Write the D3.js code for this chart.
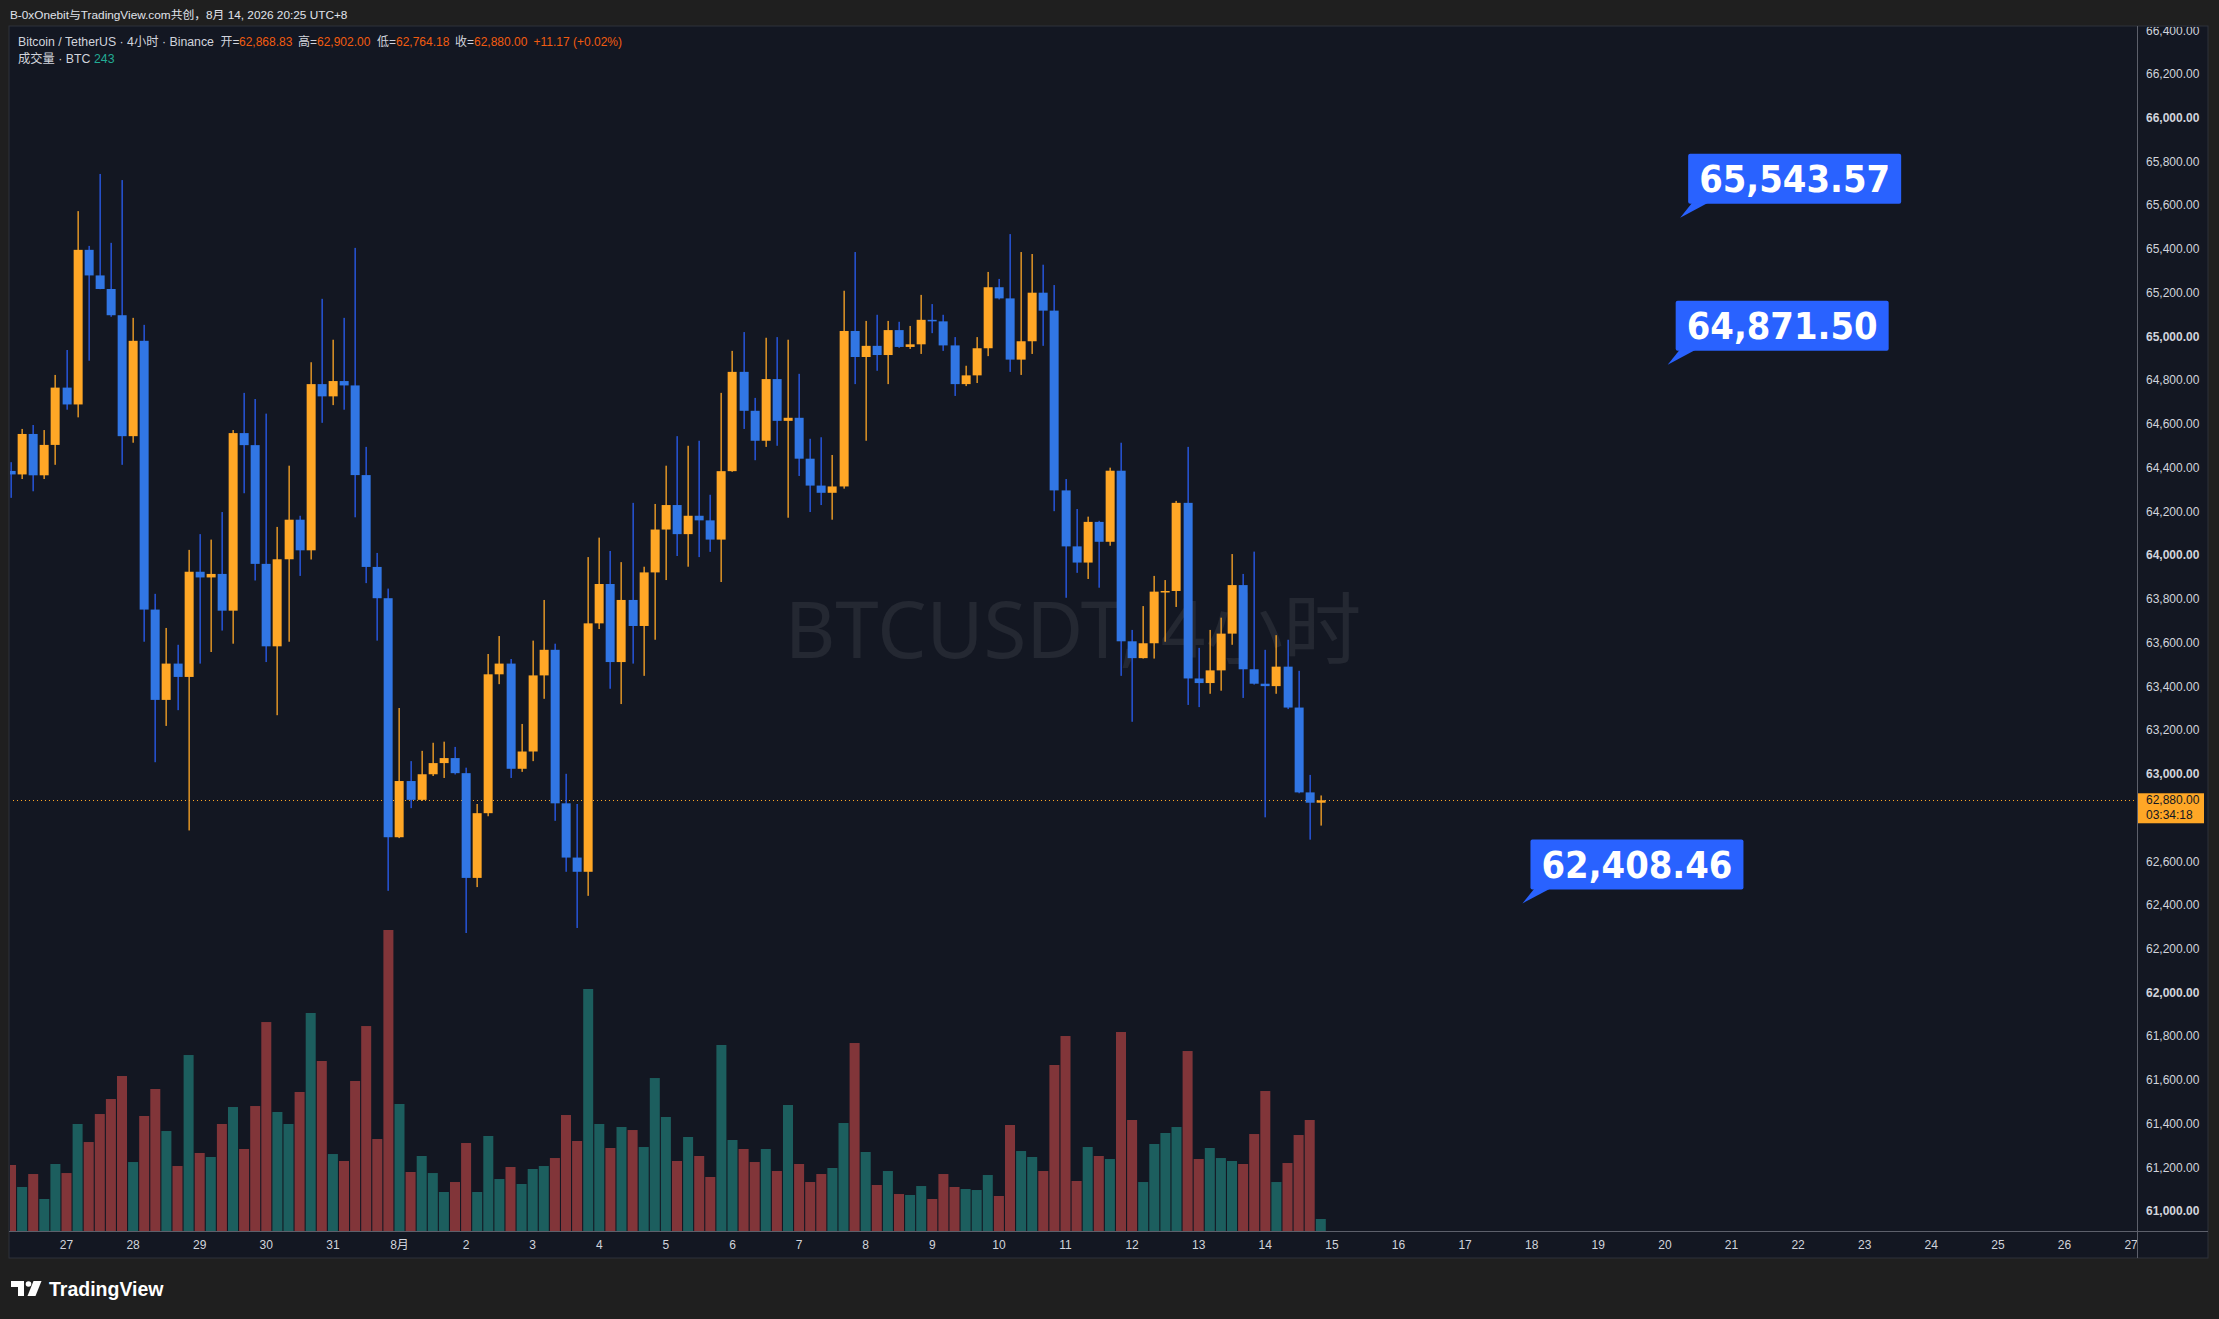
<!DOCTYPE html>
<html><head><meta charset="utf-8">
<script src="https://cdn.jsdelivr.net/npm/d3@7"></script>
<style>html,body{margin:0;padding:0;background:#1f1f1f;overflow:hidden}</style>
</head><body>
<svg id="c" width="2219" height="1319"></svg>
<script>
// ---------------- DATA ----------------
const firstCandleUTC = Date.UTC(2026, 6, 26, 4); // 26 Jul 04:00 (UTC+8 wall clock)
const stepHours = 4;
const opens  = [64386,64370,64555,64366,64505,64767,64690,65397,65280,65218,65098,64545,64981,63752,63339,63505,63444,63925,63899,63915,63747,64559,64504,63961,63584,63982,64163,64023,64783,64727,64797,64777,64367,63947,63804,62711,62968,62882,62999,63050,63073,63004,62525,62821,63456,63505,63024,63103,63451,63568,62866,62618,62553,63689,63869,63512,63796,63677,63922,64118,64230,64097,64181,64160,64072,64385,64839,64661,64524,64806,64615,64629,64442,64319,64286,64315,65026,64907,64958,64916,65030,64953,64965,65077,65070,64960,64783,64823,64947,65226,65175,64895,64979,65201,65119,64297,64041,63967,64153,64062,64387,63607,63530,63598,63834,63837,64240,63437,63416,63474,63642,63864,63479,63413,63402,63491,63304,62916,62868.83];
const highs  = [64426,64578,64596,64573,64825,64939,65574,65415,65744,65429,65716,65086,65054,63824,63668,63591,64025,64097,64072,64198,64573,64743,64715,64648,64130,64410,64181,64883,65173,64986,65086,65406,64496,64011,63848,63302,63059,63106,63143,63148,63124,63029,62863,63549,63631,63526,63229,63610,63796,63596,63001,62863,63992,64081,64020,63969,64240,63948,64235,64410,64545,64501,64524,64277,64743,64935,65021,64720,64995,64998,64986,64830,64533,64540,64459,65210,65387,65072,65100,65072,65068,65049,65191,65149,65100,64998,64867,64998,65296,65264,65469,65387,65378,65329,65236,64349,64212,64177,64158,64401,64515,63659,63768,63906,63887,64249,64496,63577,63659,63715,64006,63915,64017,63568,63635,63614,63472,62996,62902.00];
const lows   = [64263,64349,64293,64349,64414,64666,64631,64890,65217,65091,64414,64515,63605,63054,63220,63292,62742,63505,63558,63656,63596,64284,63885,63512,63269,63605,63906,63981,64606,64687,64666,64174,63873,63610,62466,62707,62844,62877,62991,62982,62998,62273,62483,62807,63411,62982,63010,63059,63344,62786,62553,62296,62443,63663,63390,63320,63505,63449,63614,63887,63997,63948,63992,64016,63878,64382,64578,64435,64496,64501,64172,64363,64198,64230,64163,64305,64783,64524,64844,64783,64949,64944,64921,65016,64935,64729,64774,64788,64911,65170,64839,64825,64921,64958,64202,63806,63920,63892,63852,64044,63449,63239,63528,63528,63605,63764,63316,63306,63367,63381,63591,63348,63409,62802,63367,63297,62912,62700,62764.18];
const closes = [64370,64555,64366,64505,64767,64690,65397,65280,65218,65098,64545,64981,63752,63339,63505,63444,63925,63899,63915,63747,64559,64504,63961,63584,63982,64163,64023,64783,64727,64797,64777,64367,63947,63804,62711,62968,62882,62999,63050,63073,63004,62525,62821,63456,63505,63024,63103,63451,63568,62866,62618,62553,63689,63869,63512,63796,63677,63922,64118,64230,64097,64181,64160,64072,64385,64839,64661,64524,64806,64615,64629,64442,64319,64286,64315,65026,64907,64958,64916,65030,64953,64965,65077,65070,64960,64783,64823,64947,65226,65175,64895,64979,65201,65119,64297,64041,63967,64153,64062,64387,63607,63530,63598,63834,63837,64240,63437,63416,63474,63642,63864,63479,63413,63402,63491,63304,62916,62868.83,62880.00];
const volumes = [1337,891,1154,648,1357,1174,2167,1802,2369,2673,3139,1397,2329,2876,2025,1316,3564,1580,1499,2167,2511,1661,2531,4232,2410,2167,2815,4415,3443,1559,1418,3038,4151,1863,6096,2572,1195,1519,1174,790,992,1782,790,1924,1053,1296,952,1256,1316,1478,2349,1823,4901,2167,1681,2106,2045,1701,3098,2309,1418,1904,1519,1094,3767,1843,1661,1397,1661,1215,2552,1357,992,1154,1276,2187,3807,1600,932,1215,749,729,911,648,1154,891,851,830,1134,709,2147,1620,1499,1215,3362,3949,1013,1701,1519,1458,4030,2248,992,1762,1985,2106,3645,1458,1681,1478,1418,1357,1964,2835,992,1377,1944,2248,243];
// 62,800 is hidden behind the last-price label in the reference
const priceTicks = [66400,66200,66000,65800,65600,65400,65200,65000,64800,64600,64400,64200,64000,63800,63600,63400,63200,63000,62600,62400,62200,62000,61800,61600,61400,61200,61000];
const calloutPrices = [65543.57, 64871.50, 62408.46];
const calloutTimes = [Date.UTC(2026,7,20,5,30), Date.UTC(2026,7,20,1,0), Date.UTC(2026,7,17,20,40)];
const lastPrice = 62880.00;
const countdown = "03:34:18";
const headerTitle = "B-0xOnebit与TradingView.com共创，8月 14, 2026 20:25 UTC+8";
const legendName = "Bitcoin / TetherUS · 4小时 · Binance";
const legendLabels = ["开=", "高=", "低=", "收="];
const legendValues = ["62,868.83", "62,902.00", "62,764.18", "62,880.00"];
const legendChange = "+11.17 (+0.02%)";
const volumeLabel = "成交量 · BTC";
const volumeValue = "243";
const watermark = "BTCUSDT, 4小时";

// ---------------- LAYOUT ----------------
const svg = d3.select("#c");
const P = {x0: 9, y0: 26, x1: 2208, y1: 1258};
const plotRight = 2137, axisTop = 1231;
const BG = "#131722", OUT = "#1f1f1f";
const UP = "#ffa726", DOWN = "#3176e4", DOWN_WICK = "#2a5ef3";
const VALC = "#f25c10";
const FONT = "'Liberation Sans','Noto Sans CJK SC',Arial,sans-serif";

svg.append("rect").attr("width", 2219).attr("height", 1319).attr("fill", OUT);
svg.append("rect").attr("x", P.x0).attr("y", P.y0).attr("width", P.x1 - P.x0).attr("height", P.y1 - P.y0)
  .attr("fill", BG).attr("stroke", "#2f323b").attr("stroke-width", 1);

const x = d3.scaleUtc().domain([new Date(Date.UTC(2026,6,27)), new Date(Date.UTC(2026,7,27))]).range([66.5, 2131.1]);
const y = d3.scaleLinear().domain([61000, 66400]).range([1211.4, 30.5]);
const vy = d3.scaleLinear().domain([0, 6096]).range([axisTop, 930]);
const tOf = i => new Date(firstCandleUTC + i * stepHours * 3600e3);

const defs = svg.append("defs");
defs.append("clipPath").attr("id", "plotClip").append("rect")
  .attr("x", P.x0 + 1).attr("y", P.y0 + 1).attr("width", plotRight - P.x0 - 1).attr("height", axisTop - P.y0 - 1);
defs.append("clipPath").attr("id", "paxClip").append("rect")
  .attr("x", plotRight).attr("y", P.y0 + 1).attr("width", P.x1 - plotRight).attr("height", axisTop - P.y0 - 1);
defs.append("clipPath").attr("id", "taxClip").append("rect")
  .attr("x", P.x0).attr("y", axisTop).attr("width", plotRight - P.x0).attr("height", P.y1 - axisTop);

const plot = svg.append("g").attr("clip-path", "url(#plotClip)");

// watermark
plot.append("text").attr("x", (P.x0 + plotRight) / 2).attr("y", 628)
  .attr("text-anchor", "middle").attr("dominant-baseline", "central")
  .attr("font-family", "'Noto Sans','Noto Sans CJK SC',sans-serif").attr("font-size", 78)
  .attr("fill", "rgba(255,255,255,0.075)").text(watermark);

// volume
const idx = d3.range(opens.length);
plot.append("g").selectAll("rect").data(idx).join("rect")
  .attr("x", i => x(tOf(i)) - 5).attr("width", 10)
  .attr("y", i => vy(volumes[i])).attr("height", i => axisTop - vy(volumes[i]))
  .attr("fill", i => closes[i] >= opens[i] ? "#26a69a" : "#ef5350").attr("fill-opacity", 0.5);

// price line
plot.append("line").attr("x1", P.x0).attr("x2", plotRight)
  .attr("y1", Math.round(y(lastPrice)) + 0.5).attr("y2", Math.round(y(lastPrice)) + 0.5)
  .attr("stroke", UP).attr("stroke-width", 1).attr("stroke-dasharray", "1,3");

// candles
const cg = plot.append("g");
cg.selectAll("rect.w").data(idx).join("rect").attr("class", "w")
  .attr("x", i => Math.round(x(tOf(i))) - 0.5).attr("width", 1.3)
  .attr("y", i => y(highs[i])).attr("height", i => Math.max(1, y(lows[i]) - y(highs[i])))
  .attr("fill", i => closes[i] >= opens[i] ? UP : DOWN_WICK);
cg.selectAll("rect.b").data(idx).join("rect").attr("class", "b")
  .attr("x", i => Math.round(x(tOf(i))) - 4.5 + 0.15).attr("width", 9)
  .attr("y", i => y(Math.max(opens[i], closes[i])))
  .attr("height", i => Math.max(1.5, Math.abs(y(opens[i]) - y(closes[i]))))
  .attr("fill", i => closes[i] >= opens[i] ? UP : DOWN);

// callouts
calloutPrices.forEach((p, k) => {
  const tx = x(new Date(calloutTimes[k])), ty = y(p);
  const bx = tx + 8, by = ty - 64, bw = 213, bh = 50;
  const g = plot.append("g");
  g.append("path").attr("d", `M${tx},${ty} L${bx + 4},${by + bh - 1} L${bx + 20},${by + bh - 1} Z`).attr("fill", "#2962ff");
  g.append("rect").attr("x", bx).attr("y", by).attr("width", bw).attr("height", bh).attr("rx", 2).attr("fill", "#2962ff");
  g.append("text").attr("x", bx + bw / 2).attr("y", by + bh / 2 + 1)
    .attr("text-anchor", "middle").attr("dominant-baseline", "central")
    .attr("font-family", "'DejaVu Sans',Verdana,sans-serif").attr("font-weight", "bold").attr("font-size", 37)
    .attr("textLength", 191).attr("lengthAdjust", "spacingAndGlyphs")
    .attr("fill", "#ffffff").text(d3.format(",.2f")(p));
});

// axes lines
svg.append("line").attr("x1", plotRight + 0.5).attr("x2", plotRight + 0.5).attr("y1", P.y0).attr("y2", P.y1)
  .attr("stroke", "#5d606b").attr("stroke-width", 1);
svg.append("line").attr("x1", P.x0).attr("x2", P.x1).attr("y1", axisTop + 0.5).attr("y2", axisTop + 0.5)
  .attr("stroke", "#5d606b").attr("stroke-width", 1);

// price axis
const pax = svg.append("g").attr("clip-path", "url(#paxClip)");
pax.selectAll("text").data(priceTicks).join("text")
  .attr("x", 2146).attr("y", d => y(d)).attr("dominant-baseline", "central")
  .attr("font-family", FONT).attr("font-size", 12)
  .attr("font-weight", d => d % 1000 === 0 ? "bold" : "normal")
  .attr("fill", "#d1d4dc").text(d => d3.format(",.2f")(d));
const ly = y(lastPrice);
pax.append("rect").attr("x", plotRight + 1).attr("y", ly - 7).attr("width", 66).attr("height", 30).attr("fill", UP);
pax.append("text").attr("x", 2146).attr("y", ly).attr("dominant-baseline", "central")
  .attr("font-family", FONT).attr("font-size", 12).attr("fill", "#131722").text(d3.format(",.2f")(lastPrice));
pax.append("text").attr("x", 2146).attr("y", ly + 14.5).attr("dominant-baseline", "central")
  .attr("font-family", FONT).attr("font-size", 12).attr("fill", "#131722").text(countdown);

// time axis
const days = d3.utcDay.range(new Date(Date.UTC(2026,6,27)), new Date(Date.UTC(2026,7,28)));
svg.append("g").attr("clip-path", "url(#taxClip)").selectAll("text").data(days).join("text")
  .attr("x", d => x(d)).attr("y", 1244.5).attr("text-anchor", "middle").attr("dominant-baseline", "central")
  .attr("font-family", FONT).attr("font-size", 12).attr("fill", "#d1d4dc")
  .text(d => d.getUTCDate() === 1 ? (d.getUTCMonth() + 1) + "月" : d.getUTCDate());

// header
const hdr = (t, xx, yy, col, fs) => svg.append("text").attr("x", xx).attr("y", yy).attr("dominant-baseline", "central")
  .attr("font-family", FONT).attr("font-size", fs || 12).attr("fill", col).text(t);
hdr(headerTitle, 10, 14.5, "#e0e3eb", 11.8);
hdr(legendName, 18, 42, "#d1d4dc", 12.3);
const lblX = [220.5, 298, 377, 455], valX = [239, 317, 396, 474];
legendLabels.forEach((l, k) => { hdr(l, lblX[k], 42, "#d1d4dc", 12); hdr(legendValues[k], valX[k], 42, VALC, 12); });
hdr(legendChange, 533.5, 42, VALC, 12);
hdr(volumeLabel, 18, 59, "#d1d4dc", 12.3);
hdr(volumeValue, 94, 59, "#22ab94", 12.3);

// bottom logo
const lg = svg.append("g").attr("fill", "#ffffff");
lg.append("path").attr("d", "M11,1281 H24 V1296 H18 V1287 H11 Z");
lg.append("circle").attr("cx", 28.5).attr("cy", 1284).attr("r", 2.8);
lg.append("path").attr("d", "M33.5,1281 H41.5 L35.5,1296 H27.5 Z");
svg.append("text").attr("x", 49).attr("y", 1289).attr("dominant-baseline", "central")
  .attr("font-family", "'Liberation Sans',Arial,sans-serif").attr("font-weight", "bold").attr("font-size", 19.5)
  .attr("fill", "#ffffff").text("TradingView");
</script>
</body></html>
